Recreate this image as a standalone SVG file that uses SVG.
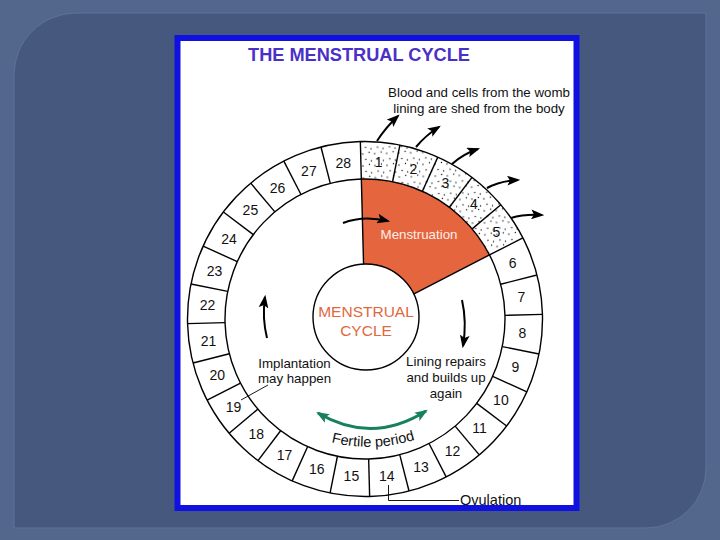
<svg xmlns="http://www.w3.org/2000/svg" xmlns:xlink="http://www.w3.org/1999/xlink" width="720" height="540" viewBox="0 0 720 540">
<style>
text{font-family:"Liberation Sans",Arial,sans-serif;}
.num{font-size:14px;fill:#111;text-anchor:middle;}
.lbl{font-size:13.3px;fill:#111;text-anchor:middle;}
.ln{stroke:#000;stroke-width:1.4;fill:none;}
.arr{stroke:#000;stroke-width:2;fill:none;marker-end:url(#ah);}
.thin{stroke:#000;stroke-width:0.9;fill:none;}
</style>
<defs>
<marker id="ah" viewBox="0 0 12 9" refX="10" refY="4.5" markerWidth="13" markerHeight="10" orient="auto" markerUnits="userSpaceOnUse"><path d="M0,0 L12,4.5 L0,9 L2.5,4.5 z" fill="#000"/></marker>
<marker id="gh" viewBox="0 0 12 9" refX="10" refY="4.5" markerWidth="13" markerHeight="10" orient="auto-start-reverse" markerUnits="userSpaceOnUse"><path d="M0,0 L12,4.5 L0,9 L2.5,4.5 z" fill="#17805E"/></marker>
<pattern id="dots" width="12" height="12" patternUnits="userSpaceOnUse"><circle cx="2" cy="3" r="0.65" fill="#000"/><circle cx="8.5" cy="1.5" r="0.65" fill="#000"/><circle cx="5" cy="8.5" r="0.65" fill="#000"/><circle cx="10.5" cy="10" r="0.65" fill="#000"/></pattern>
<line id="div" x1="0" y1="-140" x2="0" y2="-177.5" stroke="#000" stroke-width="1.4"/>
</defs>
<rect width="720" height="540" fill="#53668C"/>
<path d="M76,13 H706 V468 A60,60 0 0 1 646,528 H14 V75 A62,62 0 0 1 76,13 Z" fill="#46587E" stroke="#5F729A" stroke-width="1"/>
<rect x="177.5" y="38" width="399" height="470" fill="#fff" stroke="#1010E0" stroke-width="6"/>
<g id="title"><text x="359" y="60.5" font-size="18.2" font-weight="bold" fill="#4A30C8" text-anchor="middle">THE MENSTRUAL CYCLE</text></g>
<g id="ring" transform="translate(365 319) rotate(-1.5)">
<path id="menstruation-sector" d="M0,-140 A140,140 0 0 1 126.14,-60.74 L0,0 Z" fill="#E5653F"/>
<path d="M0,-177.5 A177.5,177.5 0 0 1 159.92,-77.01 L126.14,-60.74 A140,140 0 0 0 0,-140 Z" fill="url(#dots)"/>
<circle r="177.5" class="ln"/>
<circle r="140" class="ln"/>
<path d="M0,-140 V-53 M126.14,-60.74 L47.7,-23" class="ln"/>
<use href="#div"/>
<use href="#div" transform="rotate(12.857)"/>
<use href="#div" transform="rotate(25.714)"/>
<use href="#div" transform="rotate(38.571)"/>
<use href="#div" transform="rotate(51.429)"/>
<use href="#div" transform="rotate(64.286)"/>
<use href="#div" transform="rotate(77.143)"/>
<use href="#div" transform="rotate(90)"/>
<use href="#div" transform="rotate(102.857)"/>
<use href="#div" transform="rotate(115.714)"/>
<use href="#div" transform="rotate(128.571)"/>
<use href="#div" transform="rotate(141.429)"/>
<use href="#div" transform="rotate(154.286)"/>
<use href="#div" transform="rotate(167.143)"/>
<use href="#div" transform="rotate(180)"/>
<use href="#div" transform="rotate(192.857)"/>
<use href="#div" transform="rotate(205.714)"/>
<use href="#div" transform="rotate(218.571)"/>
<use href="#div" transform="rotate(231.429)"/>
<use href="#div" transform="rotate(244.286)"/>
<use href="#div" transform="rotate(257.143)"/>
<use href="#div" transform="rotate(270)"/>
<use href="#div" transform="rotate(282.857)"/>
<use href="#div" transform="rotate(295.714)"/>
<use href="#div" transform="rotate(308.571)"/>
<use href="#div" transform="rotate(321.429)"/>
<use href="#div" transform="rotate(334.286)"/>
<use href="#div" transform="rotate(347.143)"/>
</g>
<g id="days">
<text class="num" x="378.6" y="166.6">1</text>
<text class="num" x="413.3" y="173.6">2</text>
<text class="num" x="445.5" y="188.1">3</text>
<text class="num" x="473.8" y="209.4">4</text>
<text class="num" x="496.5" y="236.5">5</text>
<text class="num" x="512.7" y="267.9">6</text>
<text class="num" x="521.5" y="302.2">7</text>
<text class="num" x="522.4" y="337.6">8</text>
<text class="num" x="515.4" y="372.3">9</text>
<text class="num" x="500.9" y="404.5">10</text>
<text class="num" x="479.6" y="432.8">11</text>
<text class="num" x="452.5" y="455.5">12</text>
<text class="num" x="421.1" y="471.7">13</text>
<text class="num" x="386.8" y="480.5">14</text>
<text class="num" x="351.4" y="481.4">15</text>
<text class="num" x="316.7" y="474.4">16</text>
<text class="num" x="284.5" y="459.9">17</text>
<text class="num" x="256.2" y="438.6">18</text>
<text class="num" x="233.5" y="411.5">19</text>
<text class="num" x="217.3" y="380.1">20</text>
<text class="num" x="208.5" y="345.8">21</text>
<text class="num" x="207.6" y="310.4">22</text>
<text class="num" x="214.6" y="275.7">23</text>
<text class="num" x="229.1" y="243.5">24</text>
<text class="num" x="250.4" y="215.2">25</text>
<text class="num" x="277.5" y="192.5">26</text>
<text class="num" x="308.9" y="176.3">27</text>
<text class="num" x="343.2" y="167.5">28</text>
</g>
<g id="center">
<circle cx="366" cy="317" r="53" fill="#fff" stroke="#000" stroke-width="1.4"/>
<text x="366" y="316.5" font-size="15.5" fill="#E0683E" text-anchor="middle">MENSTRUAL</text>
<text x="366" y="335.5" font-size="15.5" fill="#E0683E" text-anchor="middle">CYCLE</text>
</g>
<g id="menstruation-label"><text x="419" y="239" font-size="13.3" fill="#FDF0E8" text-anchor="middle">Menstruation</text></g>
<g id="shed-label">
<text class="lbl" x="479" y="97">Blood and cells from the womb</text>
<text class="lbl" x="479" y="113">lining are shed from the body</text>
</g>
<g id="implantation-label">
<text class="lbl" x="294.5" y="367.5">Implantation</text>
<text class="lbl" x="294.5" y="382.5">may happen</text>
</g>
<g id="lining-label">
<text class="lbl" x="446" y="366">Lining repairs</text>
<text class="lbl" x="446" y="382">and builds up</text>
<text class="lbl" x="446" y="398">again</text>
</g>
<g id="fertile-label">
<path id="fp" d="M320,439 Q373,456 426,436" fill="none"/>
<text font-size="14.5" fill="#111" text-anchor="middle"><textPath href="#fp" startOffset="50%">Fertile period</textPath></text>
</g>
<g id="ovulation-label"><text x="460" y="504.5" font-size="14.5" fill="#111">Ovulation</text></g>
<g id="connectors">
<path class="arr" d="M377,141 Q386,127 398,116"/>
<path class="arr" d="M416,147 Q426,135 439,127"/>
<path class="arr" d="M452,164 Q463,154 478,149"/>
<path class="arr" d="M487,188 Q500,181 518,180"/>
<path class="arr" d="M511,218 Q524,214 542,215"/>
<path class="arr" d="M343,223 Q363,215 388,221"/>
<path class="arr" d="M267,338 Q262,318 265,297"/>
<path class="arr" d="M462,300 Q467,322 463,346"/>
<path d="M318,413 Q372,445 426,411" fill="none" stroke="#17805E" stroke-width="3" marker-start="url(#gh)" marker-end="url(#gh)"/>
<path class="thin" d="M241,400 L268,385"/>
<path class="thin" d="M388.5,485 V500.5 H459"/>
</g>
</svg>
